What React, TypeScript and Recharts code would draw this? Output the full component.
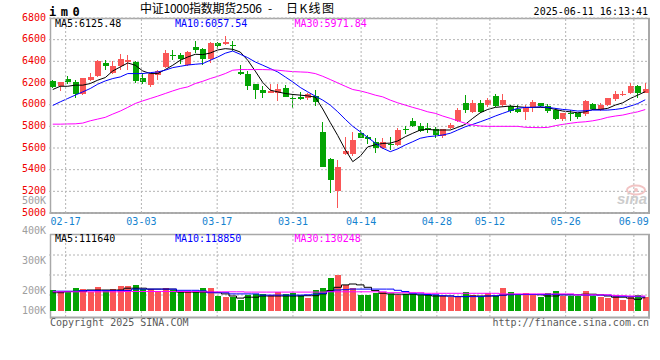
import React from 'react';
import { ComposedChart, Bar, Line, XAxis, YAxis, CartesianGrid } from 'recharts';

// trading days shown on the daily K chart
const DATES = [
  '02-13', '02-14', '02-17', '02-18', '02-19', '02-20', '02-21', '02-24', '02-25', '02-26', '02-27', '02-28',
  '03-03', '03-04', '03-05', '03-06', '03-07', '03-10', '03-11', '03-12', '03-13', '03-14',
  '03-17', '03-18', '03-19', '03-20', '03-21', '03-24', '03-25', '03-26', '03-27', '03-28',
  '03-31', '04-01', '04-02', '04-03',
  '04-07', '04-08', '04-09', '04-10', '04-11', '04-14', '04-15', '04-16', '04-17', '04-18',
  '04-21', '04-22', '04-23', '04-24', '04-25',
  '04-28', '04-29', '04-30',
  '05-06', '05-07', '05-08', '05-09',
  '05-12', '05-13', '05-14', '05-15', '05-16', '05-19', '05-20', '05-21', '05-22', '05-23',
  '05-26', '05-27', '05-28', '05-29', '05-30',
  '06-03', '06-04', '06-05', '06-06',
  '06-09', '06-10', '06-11',
];

const OPEN = [
  6216, 6173, 6238, 6207, 6097, 6228, 6262, 6385, 6290, 6357,
  6398, 6391, 6250, 6177, 6271, 6348, 6458, 6458, 6366, 6532,
  6514, 6422, 6566, 6563, 6553, 6306, 6281, 6189, 6134, 6109,
  6109, 6155, 6057, 6072, 6057, 6078, 5750, 5499, 5199, 5542,
  5542, 5736, 5699, 5658, 5598, 5637, 5628, 5772, 5849, 5803,
  5785, 5772, 5711, 5782, 5849, 6017, 5934, 6017, 5995, 6079,
  5995, 5987, 5956, 5934, 5975, 6011, 5987, 5950, 5864, 5920,
  5920, 5910, 6005, 5950, 5996, 6051, 6097, 6105, 6171, 6112,
];
const HIGH = [
  6225, 6210, 6262, 6232, 6250, 6293, 6416, 6410, 6400, 6465,
  6458, 6400, 6293, 6290, 6324, 6502, 6502, 6477, 6500, 6587,
  6520, 6575, 6580, 6630, 6584, 6364, 6311, 6195, 6173, 6195,
  6195, 6180, 6103, 6115, 6109, 6134, 5842, 5505, 5490, 5704,
  5750, 5766, 5720, 5690, 5695, 5704, 5782, 5803, 5873, 5830,
  5833, 5797, 5780, 5828, 5966, 6088, 6045, 6042, 6057, 6097,
  6103, 5996, 5996, 5996, 6045, 6017, 6010, 5966, 5925, 5950,
  5925, 6045, 6020, 6017, 6066, 6125, 6125, 6198, 6180, 6198,
];
const LOW = [
  6150, 6127, 6187, 6066, 6090, 6220, 6255, 6324, 6281, 6318,
  6318, 6201, 6189, 6164, 6232, 6340, 6410, 6380, 6360, 6477,
  6366, 6385, 6510, 6547, 6495, 6278, 6134, 6051, 6063, 6105,
  6033, 6070, 5971, 6042, 6042, 5987, 5429, 5184, 5046, 5536,
  5527, 5690, 5634, 5552, 5591, 5582, 5620, 5727, 5791, 5750,
  5741, 5690, 5690, 5772, 5838, 5925, 5925, 5920, 5975, 5975,
  5975, 5925, 5920, 5858, 5935, 5980, 5925, 5858, 5851, 5851,
  5864, 5900, 5950, 5943, 5987, 6035, 6079, 6094, 6057, 6105,
];
const CLOSE = [
  6161, 6207, 6207, 6103, 6244, 6253, 6403, 6361, 6354, 6419,
  6416, 6223, 6207, 6287, 6311, 6477, 6453, 6422, 6490, 6502,
  6422, 6566, 6538, 6578, 6545, 6287, 6173, 6134, 6109, 6122,
  6143, 6072, 6048, 6054, 6097, 6026, 5429, 5306, 5428, 5573,
  5674, 5690, 5680, 5598, 5653, 5631, 5766, 5766, 5803, 5760,
  5779, 5720, 5772, 5812, 5950, 5950, 6017, 5934, 6042, 5987,
  6042, 5941, 5929, 5975, 6026, 5987, 5941, 5864, 5920, 5913,
  5883, 6035, 5960, 5996, 6057, 6103, 6103, 6172, 6109, 6148,
];

const MA5 = [
  6140, 6170, 6170, 6180, 6180, 6195, 6226, 6250, 6311, 6348,
  6385, 6364, 6311, 6287, 6287, 6324, 6364, 6410, 6440, 6465,
  6462, 6477, 6505, 6517, 6511, 6486, 6410, 6310, 6205, 6134,
  6118, 6103, 6094, 6088, 6081, 6070, 5960, 5835, 5715, 5585,
  5474, 5525, 5610, 5630, 5642, 5645, 5665, 5704, 5736, 5766,
  5772, 5766, 5766, 5766, 5791, 5818, 5874, 5925, 5956, 5975,
  5981, 5987, 5981, 5975, 5975, 5975, 5972, 5956, 5941, 5934,
  5925, 5934, 5956, 5956, 5966, 5996, 6017, 6057, 6088, 6120,
];
const MA10 = [
  5993, 6026, 6057, 6088, 6118, 6149, 6189, 6219, 6241, 6256,
  6287, 6287, 6287, 6296, 6302, 6318, 6342, 6354, 6366, 6373,
  6379, 6410, 6440, 6475, 6495, 6465, 6434, 6394, 6364, 6333,
  6302, 6256, 6210, 6159, 6118, 6079, 6042, 5996, 5934, 5865,
  5800, 5750, 5697, 5646, 5598, 5566, 5592, 5628, 5658, 5690,
  5704, 5711, 5720, 5736, 5766, 5796, 5818, 5842, 5867, 5895,
  5920, 5944, 5966, 5975, 5975, 5981, 5975, 5966, 5956, 5950,
  5941, 5944, 5950, 5950, 5950, 5956, 5966, 5987, 6010, 6045,
];
const MA30 = [
  5820, 5820, 5822, 5823, 5830, 5851, 5867, 5883, 5913, 5941,
  5975, 6011, 6035, 6057, 6079, 6103, 6127, 6149, 6164, 6195,
  6216, 6241, 6262, 6287, 6318, 6324, 6324, 6324, 6324, 6322,
  6318, 6311, 6305, 6302, 6299, 6287, 6262, 6232, 6201, 6170,
  6140, 6127, 6109, 6088, 6072, 6042, 6017, 5996, 5975, 5956,
  5934, 5920, 5895, 5874, 5851, 5828, 5812, 5803, 5800, 5800,
  5800, 5800, 5800, 5791, 5789, 5788, 5790, 5806, 5818, 5828,
  5837, 5842, 5851, 5864, 5883, 5895, 5904, 5920, 5934, 5955,
];

const VOLUME = [
  202000, 199000, 199000, 209000, 206000, 196000, 213000, 198000, 206000, 216000,
  216000, 219000, 206000, 205000, 200000, 210000, 202000, 198000, 198000, 198000,
  209000, 209000, 183000, 180000, 180000, 169000, 187000, 189000, 189000, 186000,
  197000, 189000, 191000, 186000, 177000, 202000, 209000, 242000, 252000, 219000,
  209000, 186000, 186000, 193000, 197000, 189000, 186000, 189000, 189000, 186000,
  189000, 186000, 182000, 180000, 182000, 196000, 186000, 182000, 191000, 182000,
  209000, 196000, 186000, 191000, 189000, 178000, 191000, 199000, 182000, 183000,
  183000, 199000, 183000, 178000, 175000, 182000, 169000, 178000, 185000, 178000,
];
const VOL_MA5 = [
  193000, 193000, 197000, 197000, 197000, 202000, 202000, 202000, 202000, 202000,
  208000, 208000, 208000, 205000, 205000, 205000, 205000, 195000, 195000, 195000,
  195000, 195000, 193000, 189000, 182000, 175000, 178000, 178000, 182000, 182000,
  182000, 182000, 182000, 182000, 183000, 183000, 189000, 200000, 211000, 219000,
  222000, 219000, 211000, 200000, 191000, 189000, 188000, 188000, 188000, 186000,
  185000, 182000, 182000, 182000, 180000, 180000, 182000, 182000, 182000, 182000,
  185000, 187000, 187000, 187000, 187000, 186000, 182000, 182000, 186000, 186000,
  186000, 188000, 188000, 186000, 182000, 178000, 178000, 175000, 171000, 176000,
];
const VOL_MA10 = [
  198000, 198000, 198000, 198000, 200000, 200000, 200000, 200000, 200000, 200000,
  200000, 205000, 205000, 205000, 205000, 205000, 205000, 201000, 201000, 201000,
  199000, 193000, 193000, 193000, 189000, 189000, 189000, 189000, 185000, 185000,
  185000, 185000, 185000, 185000, 186000, 188000, 191000, 197000, 202000, 203000,
  205000, 205000, 205000, 205000, 205000, 205000, 201000, 197000, 191000, 189000,
  187000, 186000, 183000, 182000, 180000, 180000, 180000, 180000, 182000, 183000,
  185000, 186000, 187000, 187000, 187000, 187000, 187000, 187000, 186000, 186000,
  186000, 185000, 185000, 185000, 185000, 182000, 181000, 180000, 180000, 179000,
];
const VOL_MA30 = [
  196000, 196000, 196000, 196000, 196000, 196000, 196000, 196000, 196000, 196000,
  197000, 197000, 197000, 197000, 197000, 197000, 197000, 197000, 197000, 197000,
  196000, 196000, 196000, 196000, 196000, 196000, 195000, 195000, 195000, 195000,
  195000, 195000, 195000, 195000, 195000, 195000, 195000, 196000, 196000, 196000,
  196000, 196000, 196000, 196000, 196000, 193000, 193000, 193000, 193000, 193000,
  191000, 191000, 191000, 191000, 191000, 191000, 191000, 191000, 191000, 191000,
  189000, 189000, 189000, 189000, 189000, 189000, 189000, 189000, 189000, 189000,
  186000, 186000, 186000, 186000, 186000, 184000, 183000, 182000, 182000, 182000,
];

const DATE_TICKS = ['02-17', '03-03', '03-17', '03-31', '04-14', '04-28', '05-12', '05-26', '06-09'];
const PRICE_TICKS = [5000, 5200, 5400, 5600, 5800, 6000, 6200, 6400, 6600, 6800];
const VOL_TICKS = [132000, 200000, 300000, 400000, 500000];
const VOL_TICK_LABELS = ['100K', '200K', '300K', '400K', '500K'];

const UP = '#fa5656';
const DOWN = '#04a404';
const GRID = '#b4b4b4';
const FRAME = '#a8a8a8';
const MONO = '"DejaVu Sans Mono", monospace';
const CJK = '"Noto Sans CJK SC", sans-serif';

const rows = DATES.map((date, i) => ({
  date,
  open: OPEN[i],
  high: HIGH[i],
  low: LOW[i],
  close: CLOSE[i],
  range: [LOW[i], HIGH[i]],
  up: CLOSE[i] >= OPEN[i],
  ma5: MA5[i],
  ma10: MA10[i],
  ma30: MA30[i],
  vol: VOLUME[i],
  vma5: VOL_MA5[i],
  vma10: VOL_MA10[i],
  vma30: VOL_MA30[i],
}));

// candle drawn inside the high-low range bar
const Candle = (props: any) => {
  const { x, y, width, height, payload } = props;
  if (x == null || !payload) return null;
  const top = Math.min(y, y + height);
  const bottom = Math.max(y, y + height);
  const { open, close, high, low } = payload;
  const span = high - low || 1;
  const py = (v: number) => top + ((high - v) / span) * (bottom - top);
  const color = close >= open ? UP : DOWN;
  const left = Math.round(x);
  const bodyTop = py(Math.max(open, close));
  const bodyH = Math.max(1, py(Math.min(open, close)) - bodyTop);
  return (
    <g shapeRendering="crispEdges">
      <rect x={left + 2} y={top} width={1} height={bottom - top} fill={color} />
      <rect x={left} y={bodyTop} width={width} height={bodyH} fill={color} />
    </g>
  );
};

const VolBar = (props: any) => {
  const { x, y, width, height, payload } = props;
  if (x == null || !payload) return null;
  return (
    <rect
      x={Math.round(x)}
      y={y}
      width={width}
      height={height}
      fill={payload.up ? UP : DOWN}
      shapeRendering="crispEdges"
    />
  );
};

const DateTick = ({ x, y, payload }: any) => (
  <g>
    <line x1={x} x2={x} y1={19} y2={212} stroke={GRID} strokeDasharray="2 2" />
    <line x1={x} x2={x} y1={235} y2={317} stroke={GRID} strokeDasharray="2 2" />
    <text x={x} y={y + 4} textAnchor="middle" fill="#1583cf" fontSize={10} fontFamily={MONO}>
      {payload.value}
    </text>
  </g>
);

const PriceTick = ({ x, y, payload }: any) => (
  <text x={x + 5} y={y + 2.5} textAnchor="end" fill="#f00000" fontSize={10} fontFamily={MONO}>
    {payload.value}
  </text>
);

const VolTick = ({ x, y, payload }: any) => (
  <text x={x + 5} y={y + 3} textAnchor="end" fill="#9e9e9e" fontSize={10} fontFamily={MONO}>
    {VOL_TICK_LABELS[VOL_TICKS.indexOf(payload.value)]}
  </text>
);

const layer: React.CSSProperties = { position: 'absolute', left: 0, top: 0 };

export default function App() {
  return (
    <div style={{ position: 'absolute', left: 0, top: 0, width: 660, height: 360, background: '#fff', overflow: 'hidden' }}>
      {/* panel frames */}
      <svg width={660} height={360} style={layer}>
        <line x1={50} x2={650} y1={18.5} y2={18.5} stroke={FRAME} strokeWidth={1.5} />
        <line x1={50} x2={650} y1={213} y2={213} stroke={FRAME} strokeWidth={2} />
        <line x1={50.5} x2={50.5} y1={18} y2={214} stroke={FRAME} strokeWidth={1.5} />
        <line x1={649} x2={649} y1={18} y2={214} stroke={FRAME} strokeWidth={2} />
        <line x1={50} x2={650} y1={234.5} y2={234.5} stroke={FRAME} strokeWidth={1.5} />
        <line x1={50} x2={650} y1={317.5} y2={317.5} stroke={FRAME} strokeWidth={2} />
        <line x1={50.5} x2={50.5} y1={234} y2={318.5} stroke={FRAME} strokeWidth={1.5} />
        <line x1={649} x2={649} y1={234} y2={318.5} stroke={FRAME} strokeWidth={2} />
      </svg>

      {/* price panel */}
      <div style={layer}>
        <ComposedChart width={660} height={360} data={rows} margin={{ top: 18, right: 11, bottom: 127, left: 0 }}>
          <CartesianGrid vertical={false} stroke={GRID} strokeDasharray="2 2" />
          <XAxis dataKey="date" hide height={0} />
          <XAxis
            xAxisId="grid"
            dataKey="date"
            scale="point"
            padding={{ left: 1.5, right: 0 }}
            ticks={DATE_TICKS}
            interval={0}
            axisLine={false}
            tickLine={false}
            height={20}
            tick={<DateTick />}
          />
          <YAxis
            domain={[5000, 6800]}
            ticks={PRICE_TICKS}
            interval={0}
            axisLine={false}
            tickLine={false}
            width={49}
            tick={<PriceTick />}
          />
          <Bar dataKey="range" barSize={6} shape={<Candle />} isAnimationActive={false} />
          <Line dataKey="ma5" stroke="#000000" strokeWidth={1} dot={false} isAnimationActive={false} />
          <Line dataKey="ma10" stroke="#0000ff" strokeWidth={1} dot={false} isAnimationActive={false} />
          <Line dataKey="ma30" stroke="#ff00ff" strokeWidth={1} dot={false} isAnimationActive={false} />
        </ComposedChart>
      </div>

      {/* volume panel */}
      <div style={layer}>
        <ComposedChart width={660} height={360} data={rows} margin={{ top: 200, right: 11, bottom: 49, left: 0 }}>
          <CartesianGrid vertical={false} horizontalPoints={[255, 275, 295]} stroke={GRID} strokeDasharray="2 2" />
          <XAxis dataKey="date" hide height={0} />
          <YAxis
            domain={[132000, 502000]}
            ticks={VOL_TICKS}
            interval={0}
            axisLine={false}
            tickLine={false}
            width={49}
            tick={<VolTick />}
          />
          <Bar dataKey="vol" barSize={6} shape={<VolBar />} isAnimationActive={false} />
          <Line type="step" dataKey="vma5" stroke="#000000" strokeWidth={1} dot={false} isAnimationActive={false} />
          <Line type="step" dataKey="vma10" stroke="#0000ff" strokeWidth={1} dot={false} isAnimationActive={false} />
          <Line type="step" dataKey="vma30" stroke="#ff00ff" strokeWidth={1} dot={false} isAnimationActive={false} />
        </ComposedChart>
      </div>

      {/* titles and legends */}
      <svg width={660} height={360} style={layer}>
        <text x={49} y={15.5} fontSize={12} fontWeight="bold" letterSpacing={4.5} fontFamily={MONO} fill="#000">im0</text>
        <text x={140} y={12.5} fontSize={12} fontFamily={CJK} fill="#000" textLength={122} lengthAdjust="spacing">
          中证1000指数期货2506
        </text>
        <text x={268} y={12.5} fontSize={12} fontFamily={CJK} fill="#000">-</text>
        <text x={286} y={12.5} fontSize={12} fontFamily={CJK} fill="#000" textLength={48} lengthAdjust="spacing">
          日K线图
        </text>
        <text x={648} y={15} textAnchor="end" fontSize={10} fontFamily={MONO} fill="#000">2025-06-11 16:13:41</text>

        <text x={55} y={26.5} fontSize={10} fontFamily={MONO} fill="#000">MA5:6125.48</text>
        <text x={175} y={26.5} fontSize={10} fontFamily={MONO} fill="#0000ff">MA10:6057.54</text>
        <text x={294.5} y={26.5} fontSize={10} fontFamily={MONO} fill="#ff00ff">MA30:5971.84</text>

        <text x={55} y={242} fontSize={10} fontFamily={MONO} fill="#000">MA5:111640</text>
        <text x={175} y={242} fontSize={10} fontFamily={MONO} fill="#0000ff">MA10:118850</text>
        <text x={294.5} y={242} fontSize={10} fontFamily={MONO} fill="#ff00ff">MA30:130248</text>

        <text x={50} y={325.5} fontSize={10} fontFamily={MONO} fill="#5a5a5a">Copyright 2025 SINA.COM</text>
        <text x={649} y={325.5} textAnchor="end" fontSize={10} fontFamily={MONO} fill="#5a5a5a">http://finance.sina.com.cn</text>

        {/* faint sina watermark */}
        <ellipse cx={636} cy={190} rx={9} ry={4.5} fill="none" stroke="#f2c4c4" strokeWidth={2} />
        <circle cx={636} cy={190} r={2} fill="#f2c4c4" />
        <text x={647} y={204} textAnchor="end" fontSize={15} fontStyle="italic" fontWeight="bold" fontFamily="Arial, sans-serif" fill="#cccccc">
          sina
        </text>
      </svg>
    </div>
  );
}
